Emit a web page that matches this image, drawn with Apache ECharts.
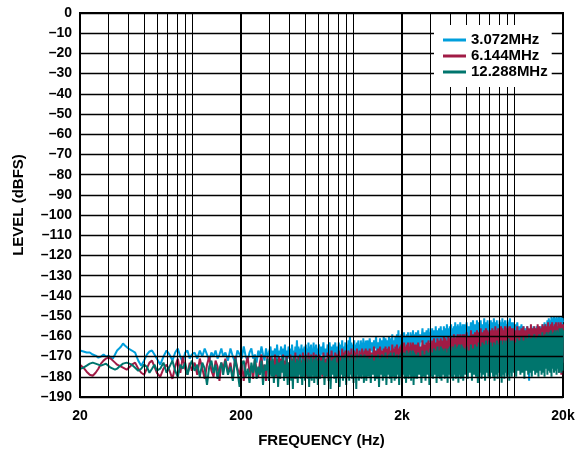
<!DOCTYPE html>
<html>
<head>
<meta charset="utf-8">
<script src="https://cdn.jsdelivr.net/npm/echarts@6/dist/echarts.min.js"></script>
<style>
html,body{margin:0;padding:0;background:#fff;}
#chart{width:579px;height:453px;}
</style>
</head>
<body>
<div id="chart"></div>
<script>
// Frequency grid (Hz)
const freqHz = [
  20,21,22,23,24,25,26,27,28,29,30,31,32,33,34,35,36,37,38,39,40,
  42,44,46,48,50,52,54,56,58,60,
  63,66,69,72,75,78,81,84,87,90,93,96,99,
  103,107,111,115,119,123,127,131,135,139,143,147,151,155,
  160,166,172,178,184,190,196,202,208,214,220,226,232,238,244,250,256,262,268,274,280,286,292,298,
  305,310,315,320,325,330,335,340,345,350,355,360,365,370,375,380,385,390,395,400,
  405,410,415,420,425,430,435,440,445,450,455,460,465,470,475,480,485,490,495,500,
  505,510,515,520,525,530,535,540,545,550,555,560,565,570,575,580,585,590,595,600,
  610,620,630,640,650,660,670,680,690,700,710,720,730,740,750,760,770,780,790,800,
  810,820,830,840,850,860,870,880,890,900,910,920,930,940,950,960,970,980,990,1000,
  1010,1020,1030,1040,1050,1060,1070,1080,1090,1100,1110,1120,1130,1140,1150,1160,1170,1180,1190,1200,
  1220,1240,1260,1280,1300,1320,1340,1360,1380,1400,1420,1440,1460,1480,1500,1520,1540,1560,1580,1600,
  1620,1640,1660,1680,1700,1720,1740,1760,1780,1800,1820,1840,1860,1880,1900,1920,1940,1960,1980,2000,
  2020,2040,2060,2080,2100,2120,2140,2160,2180,2200,2220,2240,2260,2280,2300,2320,2340,2360,2380,2400,
  2440,2480,2520,2560,2600,2640,2680,2720,2760,2800,2840,2880,2920,2960,3000,3040,3080,3120,3160,3200,
  3240,3280,3320,3360,3400,3440,3480,3520,3560,3600,3640,3680,3720,3760,3800,3840,3880,3920,3960,4000,
  4040,4080,4120,4160,4200,4240,4280,4320,4360,4400,4440,4480,4520,4560,4600,4640,4680,4720,4760,4800,
  4880,4960,5040,5120,5200,5280,5360,5440,5520,5600,5680,5760,5840,5920,6000,6080,6160,6240,6320,6400,
  6480,6560,6640,6720,6800,6880,6960,7040,7120,7200,7280,7360,7440,7520,7600,7680,7760,7840,7920,8000,
  8080,8160,8240,8320,8400,8480,8560,8640,8720,8800,8880,8960,9040,9120,9200,9280,9360,9440,9520,9600,
  9760,9920,10080,10240,10400,10560,10720,10880,11040,11200,11360,11520,11680,11840,12000,12160,12320,12480,12640,12800,
  12960,13120,13280,13440,13600,13760,13920,14080,14240,14400,14560,14720,14880,15040,15200,15360,15520,15680,15840,16000,
  16160,16320,16480,16640,16800,16960,17120,17280,17440,17600,17760,17920,18080,18240,18400,18560,18720,18880,19040,19200,
  19360,19520,19680,19840,20000
];

// Level (dBFS) for 3.072MHz
const level3072 = [
  -167,-167.5,-168,-168,-169,-169.5,-170.5,-170,-169,-170,-169.5,-170.5,-171,-169,-167,-166,-165,-163.5,-164.5,-165,-166,
  -167,-168,-172,-174.5,-172,-169,-167.5,-167,-169,-171,
  -174,-170,-167,-169,-172,-168,-166,-170,-173,-168,-167,-171,-169,
  -168,-171,-167,-170,-166,-169,-172,-168,-170,-167,-171,-169,-166,-170,
  -168,-172,-166,-170,-173,-167,-169,-171,-165,-170,-172,-168,-166,-171,-169,-173,-167,-170,-165,-169,-172,-166,-170,-168,
  -165,-172,-167,-170,-166,-173,-164,-171,-167,-169,-165,-172,-166,-170,-164,-173,-167,-171,-165,-169,
  -166,-172,-164,-170,-167,-173,-165,-170,-162,-171,-165,-172,-166,-169,-164,-173,-166,-170,-165,-172,
  -164,-170,-166,-173,-163,-171,-165,-169,-164,-172,-166,-170,-163,-173,-165,-171,-164,-169,-166,-172,
  -164,-171,-165,-169,-163,-172,-166,-170,-164,-171,-163,-169,-165,-172,-164,-170,-163,-171,-165,-169,
  -163,-172,-164,-170,-162,-171,-165,-169,-163,-172,-164,-170,-162,-171,-160,-169,-163,-172,-164,-170,
  -162,-171,-164,-169,-163,-172,-162,-170,-164,-171,-162,-169,-163,-172,-161,-170,-163,-171,-162,-169,
  -162,-169,-161,-167,-163,-170,-162,-166,-160,-169,-163,-168,-161,-170,-162,-167,-160,-169,-161,-166,
  -162,-170,-160,-167,-161,-168,-159,-169,-162,-166,-160,-168,-159,-170,-157,-167,-160,-169,-159,-166,
  -161,-168,-158,-170,-160,-166,-159,-169,-158,-167,-160,-168,-158,-166,-159,-169,-157,-167,-159,-165,
  -158,-165,-157,-167,-159,-163,-156,-166,-158,-164,-157,-166,-156,-163,-158,-165,-156,-167,-157,-164,
  -155,-166,-157,-163,-156,-165,-155,-164,-157,-166,-155,-163,-156,-165,-154,-162,-156,-166,-155,-163,
  -154,-165,-156,-162,-155,-164,-153,-163,-155,-165,-154,-162,-155,-164,-153,-163,-155,-161,-154,-163,
  -154,-162,-153,-164,-155,-161,-153,-163,-152,-160,-154,-163,-152,-161,-153,-164,-152,-160,-154,-162,
  -151,-161,-153,-163,-152,-160,-154,-162,-152,-161,-153,-162,-151,-160,-153,-164,-152,-161,-154,-162,
  -152,-160,-153,-163,-151,-161,-153,-162,-152,-160,-154,-163,-152,-161,-153,-162,-151,-160,-153,-161,
  -153,-161,-154,-160,-153,-162,-155,-160,-154,-163,-155,-161,-156,-160,-155,-162,-182,-157,-161,-156,
  -162,-155,-161,-156,-163,-155,-160,-156,-162,-155,-161,-155,-160,-154,-162,-153,-160,-154,-161,-152,
  -159,-151,-158,-152,-159,-150,-157,-151,-158,-150,-157,-151,-158,-150,-156,-151,-157,-150,-158,-151,
  -156,-150,-157,-151,-153
];

// Level (dBFS) for 6.144MHz
const level6144 = [
  -174,-175.5,-177.5,-179,-179.5,-178,-176,-173.5,-172,-171,-170.5,-171,-172,-173,-174,-174.5,-175,-175.5,-176,-176.5,-176,
  -174,-173,-176,-178,-179,-176,-173,-172,-175,-178,
  -180,-176,-174,-177,-181,-175,-171,-178,-170,-176,-179,-173,-177,
  -173,-179,-171,-176,-181,-174,-170,-177,-180,-172,-175,-182,-173,-176,
  -171,-178,-173,-181,-170,-176,-179,-172,-182,-174,-170,-178,-175,-181,-171,-177,-180,-173,-169,-179,-174,-182,-170,-177,
  -170,-178,-172,-176,-169,-180,-173,-177,-170,-181,-171,-176,-169,-179,-172,-175,-170,-180,-173,-177,
  -169,-178,-171,-176,-170,-181,-168,-177,-172,-179,-170,-176,-169,-180,-172,-177,-168,-179,-171,-175,
  -169,-180,-171,-176,-168,-178,-170,-181,-169,-176,-171,-179,-168,-177,-170,-180,-169,-176,-171,-179,
  -169,-177,-170,-180,-168,-175,-171,-179,-168,-176,-169,-181,-167,-174,-170,-178,-168,-176,-169,-180,
  -167,-175,-170,-178,-166,-176,-168,-179,-167,-175,-169,-180,-167,-176,-168,-178,-166,-175,-169,-179,
  -167,-176,-168,-180,-166,-174,-169,-178,-167,-176,-168,-179,-166,-175,-168,-178,-167,-180,-166,-176,
  -167,-176,-166,-178,-168,-174,-165,-177,-167,-175,-166,-179,-165,-173,-167,-177,-166,-175,-165,-178,
  -166,-174,-165,-177,-167,-175,-164,-178,-166,-173,-165,-177,-164,-175,-166,-178,-165,-174,-164,-177,
  -165,-175,-163,-178,-165,-173,-164,-176,-163,-178,-165,-174,-163,-177,-164,-175,-163,-178,-164,-176,
  -164,-174,-163,-177,-165,-172,-162,-176,-164,-173,-163,-178,-162,-171,-163,-176,-162,-174,-161,-177,
  -163,-172,-161,-176,-162,-178,-161,-173,-162,-176,-160,-174,-161,-177,-162,-172,-160,-176,-161,-178,
  -160,-173,-161,-175,-159,-177,-161,-172,-160,-176,-159,-174,-160,-177,-159,-172,-160,-176,-159,-174,
  -159,-172,-158,-175,-160,-170,-157,-174,-159,-171,-158,-176,-157,-170,-158,-174,-156,-171,-158,-175,
  -157,-169,-156,-173,-157,-176,-158,-170,-157,-174,-156,-172,-157,-175,-155,-170,-157,-174,-156,-171,
  -157,-176,-155,-170,-156,-173,-157,-175,-155,-171,-156,-174,-155,-170,-156,-175,-155,-172,-156,-174,
  -156,-172,-157,-175,-155,-170,-157,-174,-156,-171,-155,-176,-157,-170,-155,-173,-156,-171,-154,-175,
  -156,-170,-155,-174,-156,-172,-154,-176,-155,-171,-156,-173,-154,-175,-155,-170,-154,-174,-155,-172,
  -153,-175,-155,-171,-154,-174,-153,-172,-155,-175,-154,-171,-153,-174,-155,-172,-153,-178,-154,-173,
  -153,-179,-154,-173,-154
];

// Level (dBFS) for 12.288MHz
const level12288 = [
  -176,-175.5,-174.5,-173.5,-173,-173.5,-174,-174.5,-174,-173.5,-174.5,-175.5,-176,-176.5,-176,-175,-174.5,-173.5,-173,-173,-173.5,
  -174,-175.5,-177,-176,-174,-175,-178,-176,-174,-177,
  -176,-173,-178,-175,-172,-177,-180,-174,-176,-173,-179,-175,-172,
  -177,-174,-180,-173,-176,-184,-175,-172,-178,-174,-181,-176,-173,-179,
  -172,-179,-175,-182,-171,-177,-185,-174,-172,-180,-176,-183,-173,-178,-171,-181,-175,-179,-172,-184,-174,-177,-171,-182,
  -172,-180,-171,-183,-174,-179,-171,-185,-173,-181,-172,-178,-170,-182,-174,-180,-171,-184,-173,-179,
  -171,-182,-172,-186,-170,-180,-173,-181,-171,-183,-172,-179,-170,-181,-173,-184,-171,-180,-172,-182,
  -170,-179,-173,-181,-171,-185,-172,-180,-170,-182,-173,-179,-171,-183,-172,-180,-170,-181,-172,-184,
  -171,-181,-172,-179,-170,-184,-173,-180,-171,-182,-170,-186,-172,-179,-171,-181,-170,-183,-173,-180,
  -170,-185,-172,-179,-170,-182,-171,-180,-169,-184,-171,-180,-170,-182,-172,-179,-169,-181,-171,-183,
  -170,-180,-172,-186,-169,-179,-171,-182,-170,-180,-169,-181,-171,-179,-170,-183,-169,-180,-171,-182,
  -170,-180,-171,-183,-169,-179,-172,-182,-170,-181,-169,-185,-171,-179,-169,-182,-170,-180,-168,-184,
  -171,-179,-169,-181,-168,-183,-170,-180,-168,-182,-170,-181,-169,-179,-171,-184,-169,-180,-168,-182,
  -170,-179,-168,-181,-169,-183,-167,-180,-169,-181,-168,-179,-167,-182,-169,-180,-167,-184,-168,-181,
  -169,-181,-168,-179,-170,-183,-167,-180,-169,-182,-167,-179,-168,-184,-166,-180,-168,-181,-166,-179,
  -167,-183,-165,-180,-167,-181,-165,-182,-166,-179,-167,-181,-166,-180,-168,-183,-166,-179,-165,-181,
  -167,-180,-165,-182,-166,-179,-164,-181,-166,-180,-165,-183,-164,-179,-166,-181,-164,-180,-165,-182,
  -166,-179,-165,-181,-167,-178,-164,-182,-166,-179,-164,-180,-165,-183,-163,-178,-165,-181,-163,-179,
  -164,-182,-162,-178,-164,-180,-162,-181,-163,-178,-165,-180,-163,-182,-164,-179,-162,-181,-164,-178,
  -163,-180,-162,-183,-164,-179,-162,-181,-163,-178,-162,-180,-163,-179,-161,-182,-163,-178,-162,-180,
  -162,-178,-163,-180,-161,-177,-162,-179,-160,-178,-162,-181,-160,-177,-161,-179,-159,-178,-161,-180,
  -160,-177,-159,-179,-161,-178,-160,-180,-159,-177,-160,-179,-158,-178,-160,-180,-159,-176,-158,-179,
  -159,-177,-158,-178,-157,-180,-159,-176,-158,-178,-157,-177,-158,-179,-157,-176,-158,-178,-156,-177,
  -157,-178,-156,-177,-157
];

const seriesNames = ['3.072MHz', '6.144MHz', '12.288MHz'];
const seriesColors = ['#009fdc', '#a11b45', '#00756d'];

const xTickValues = [20, 200, 2000, 20000];
const xTickLabels = ['20', '200', '2k', '20k'];
const xMinorGrid = [30,40,50,60,70,80,90,100,300,400,500,600,700,800,900,1000,3000,4000,5000,6000,7000,8000,9000,10000];
const xMajorGrid = [200, 2000];

const FONT = '"Liberation Sans", Arial, Helvetica, sans-serif';

function pairs(vals) { return freqHz.map((f, i) => [f, vals[i]]); }

const chart = echarts.init(document.getElementById('chart'), null, { renderer: 'canvas' });
const levels = [level3072, level6144, level12288];

const option = {
  animation: false,
  backgroundColor: '#fff',
  grid: { left: 80, right: 16, top: 13, bottom: 56, show: true, borderColor: '#000', borderWidth: 2, containLabel: false },
  legend: {
    data: seriesNames,
    orient: 'vertical',
    left: 434, top: 25,
    padding: [7, 4, 7, 9],
    itemGap: 0,
    itemWidth: 23, itemHeight: 3,
    icon: 'rect',
    backgroundColor: '#fff',
    z: 10,
    textStyle: { fontFamily: FONT, fontWeight: 'bold', fontSize: 15, color: '#000', lineHeight: 16 }
  },
  xAxis: {
    type: 'log', logBase: 10, min: 20, max: 20000,
    name: 'FREQUENCY (Hz)', nameLocation: 'middle', nameGap: 36,
    nameTextStyle: { fontFamily: FONT, fontWeight: 'bold', fontSize: 15, color: '#000' },
    axisLine: { show: true, lineStyle: { color: '#000', width: 2 } },
    axisTick: { show: false },
    splitLine: { show: false },
    axisLabel: {
      customValues: xTickValues,
      formatter: v => xTickLabels[xTickValues.indexOf(Math.round(v))] || '',
      fontFamily: FONT, fontWeight: 'bold', fontSize: 14, color: '#000', margin: 12
    }
  },
  yAxis: {
    type: 'value', min: -190, max: 0, interval: 10, z: 4,
    name: 'LEVEL (dBFS)', nameLocation: 'middle', nameGap: 54,
    nameTextStyle: { fontFamily: FONT, fontWeight: 'bold', fontSize: 15, color: '#000' },
    axisLine: { show: true, lineStyle: { color: '#000', width: 2 } },
    axisTick: { show: false },
    splitLine: { show: true, lineStyle: { color: '#000', width: 1.3 } },
    axisLabel: {
      formatter: v => v === 0 ? '0' : '\u2013' + Math.abs(v),
      fontFamily: FONT, fontWeight: 'bold', fontSize: 14, color: '#000', margin: 8
    }
  },
  series: levels.map((vals, i) => ({
    name: seriesNames[i],
    type: 'line',
    data: pairs(vals),
    showSymbol: false,
    symbol: 'none',
    lineStyle: { color: seriesColors[i], width: 2 },
    itemStyle: { color: seriesColors[i] },
    z: 2 + i * 0.1
  })).concat([{
    name: 'grid',
    type: 'line',
    data: [],
    z: 4,
    markLine: {
      silent: true, symbol: ['none', 'none'], z: 4, animation: false,
      label: { show: false },
      data: xMinorGrid.map(v => ({ xAxis: v, lineStyle: { color: '#000', width: 1, type: 'solid' } }))
        .concat(xMajorGrid.map(v => ({ xAxis: v, lineStyle: { color: '#000', width: 2, type: 'solid' } })))
    }
  }])
};
chart.setOption(option);
</script>
</body>
</html>
